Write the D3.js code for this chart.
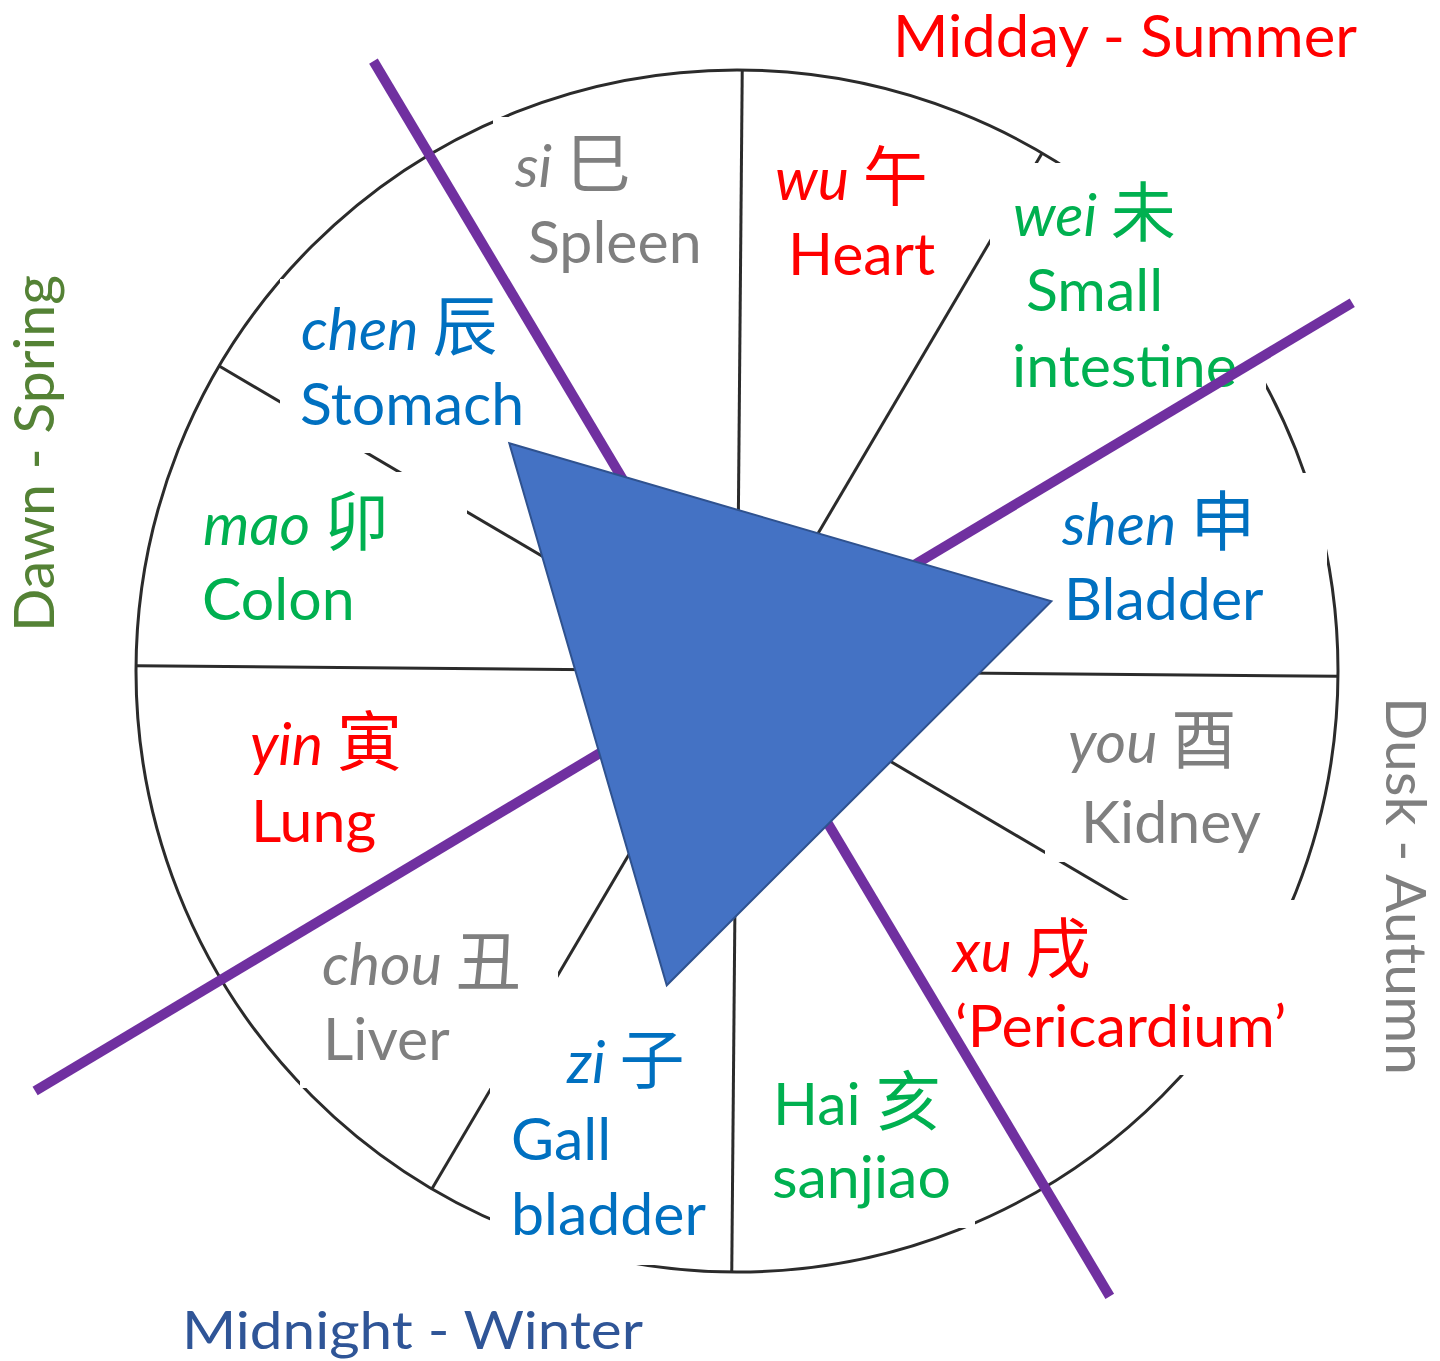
<!DOCTYPE html>
<html>
<head>
<meta charset="utf-8">
<script src="https://cdn.jsdelivr.net/npm/d3@7"></script>
<style>
  body { margin: 0; background: #fff; }
  svg { display: block; }
</style>
</head>
<body>
<svg id="wheel" width="1440" height="1361"></svg>
<script>
// Earthly branches, counter-clockwise from 3 o'clock, one per 30° segment
const branches = ["shen", "wei", "wu", "si", "chen", "mao", "yin", "chou", "zi", "Hai", "xu", "you"];
const characters = ["申", "未", "午", "巳", "辰", "卯", "寅", "丑", "子", "亥", "戌", "酉"];
const organs = [
  ["Bladder"], ["Small", "intestine"], ["Heart"], ["Spleen"],
  ["Stomach"], ["Colon"], ["Lung"], ["Liver"],
  ["Gall", "bladder"], ["sanjiao"], ["\u2018Pericardium\u2019"], ["Kidney"]
];
const branchColors = ["#0070C0", "#00B050", "#FF0000", "#7F7F7F"]; // repeats every 4 segments

const seasons = ["Midday - Summer", "Dawn - Spring", "Midnight - Winter", "Dusk - Autumn"];
const seasonColors = ["#FF0000", "#548235", "#2F5597", "#7F7F7F"];

// purple dividers (degrees) and triangle corners (degrees, radius)
const dividerAngles = [120.8, 30.9];
const triangleAngles = [135, 12.5, 257.4];
const triangleRadius = 322;

// ---- layout ----
const width = 1440;
const height = 1361;
const cx = 737;
const cy = 671;
const radius = 601;

const svg = d3.select("#wheel");

const angle = d3.scaleLinear().domain([0, 12]).range([-0.5, 359.5]);
const rad = d => d * Math.PI / 180;
function polar(deg, r) {
  return [cx + r * Math.cos(rad(deg)), cy - r * Math.sin(rad(deg))];
}

// spokes that sit under a purple divider follow it
const spokeAngles = d3.range(12).map(i => {
  const a = angle(i);
  const hit = dividerAngles.flatMap(d => [d, d + 180]).find(d => Math.abs(d - a) < 3);
  return hit === undefined ? a : hit;
});

// label anchors: pinyin baseline, then organ lines, and the white patch behind
const labelLayout = [
  { p: [1062, 545], o: [[1064, 620]], box: [1045, 473, 1327, 668] },
  { p: [1013, 236], o: [[1026, 311], [1012, 387]], box: [990, 163, 1266, 398] },
  { p: [775, 200], o: [[788, 275]], box: [748, 138, 958, 292] },
  { p: [515, 187], o: [[528, 263]], box: [493, 117, 736, 300] },
  { p: [301, 350], o: [[300, 425]], box: [280, 279, 535, 453] },
  { p: [203, 545], o: [[202, 620]], box: [185, 472, 467, 645] },
  { p: [250, 765], o: [[251, 842]], box: [228, 710, 460, 862] },
  { p: [322, 985], o: [[323, 1060]], box: [300, 912, 558, 1088] },
  { p: [567, 1083], o: [[511, 1160], [511, 1235]], box: [490, 1028, 728, 1265] },
  { p: [773, 1125], o: [[772, 1198]], box: [758, 1058, 975, 1228] },
  { p: [953, 972], o: [[955, 1047]], box: [938, 900, 1300, 1075] },
  { p: [1068, 763], o: [[1081, 843]], box: [1045, 698, 1300, 862] }
];

const latin = "Lato, 'Open Sans', sans-serif";
const cjk = "'Noto Sans CJK SC', sans-serif";

// ---- wheel: circle and 12 spokes ----
const wheel = svg.append("g").attr("class", "wheel");

wheel.append("circle")
  .attr("cx", cx)
  .attr("cy", cy)
  .attr("r", radius)
  .attr("fill", "none")
  .attr("stroke", "#2b2b2b")
  .attr("stroke-width", 3);

wheel.selectAll("line.spoke")
  .data(spokeAngles)
  .join("line")
  .attr("class", "spoke")
  .attr("x1", cx)
  .attr("y1", cy)
  .attr("x2", a => polar(a, radius)[0])
  .attr("y2", a => polar(a, radius)[1])
  .attr("stroke", "#2b2b2b")
  .attr("stroke-width", 3);

// ---- branch labels on white patches ----
const labels = svg.append("g")
  .selectAll("g.branch")
  .data(branches.map((b, i) => ({
    branch: b,
    char: characters[i],
    organ: organs[i],
    color: branchColors[i % 4],
    italic: b !== "Hai",
    layout: labelLayout[i]
  })))
  .join("g")
  .attr("class", "branch");

labels.append("rect")
  .attr("x", d => d.layout.box[0])
  .attr("y", d => d.layout.box[1])
  .attr("width", d => d.layout.box[2] - d.layout.box[0])
  .attr("height", d => d.layout.box[3] - d.layout.box[1])
  .attr("fill", "#fff");

const head = labels.append("text")
  .attr("x", d => d.layout.p[0])
  .attr("y", d => d.layout.p[1])
  .attr("fill", d => d.color);

head.append("tspan")
  .attr("font-family", latin)
  .attr("font-size", 59)
  .attr("font-style", d => d.italic ? "italic" : "normal")
  .text(d => d.branch + " ");

head.append("tspan")
  .attr("font-family", cjk)
  .attr("font-size", 65)
  .text(d => d.char);

labels.each(function (d) {
  d3.select(this).selectAll("text.organ")
    .data(d.organ.map((t, k) => ({ t, pos: d.layout.o[k] })))
    .join("text")
    .attr("class", "organ")
    .attr("x", o => o.pos[0])
    .attr("y", o => o.pos[1])
    .attr("font-family", latin)
    .attr("font-size", 59)
    .attr("fill", d.color)
    .text(o => o.t);
});

// ---- purple dividers ----
const dividerReach = [[710, 728], [717, 818]];
svg.append("g")
  .selectAll("line")
  .data(dividerAngles)
  .join("line")
  .attr("x1", (a, i) => polar(a, dividerReach[i][0])[0])
  .attr("y1", (a, i) => polar(a, dividerReach[i][0])[1])
  .attr("x2", (a, i) => polar(a + 180, dividerReach[i][1])[0])
  .attr("y2", (a, i) => polar(a + 180, dividerReach[i][1])[1])
  .attr("stroke", "#7030A0")
  .attr("stroke-width", 10);

// ---- blue triangle ----
svg.append("polygon")
  .datum(triangleAngles)
  .attr("points", d => d.map(a => polar(a, triangleRadius).join(",")).join(" "))
  .attr("fill", "#4472C4")
  .attr("stroke", "#2F528F")
  .attr("stroke-width", 2);

// ---- season titles ----
const seasonLayout = [
  { x: 893, y: 57, rot: 0, size: 58, len: 464 },
  { x: 54, y: 632, rot: -90, size: 57, len: 357 },
  { x: 182, y: 1349, rot: 0, size: 52, len: 461 },
  { x: 1386, y: 697, rot: 90, size: 57, len: 378 }
];

svg.append("g")
  .selectAll("text")
  .data(seasons)
  .join("text")
  .attr("transform", (s, i) => `translate(${seasonLayout[i].x},${seasonLayout[i].y}) rotate(${seasonLayout[i].rot})`)
  .attr("font-family", latin)
  .attr("font-size", (s, i) => seasonLayout[i].size)
  .attr("textLength", (s, i) => seasonLayout[i].len)
  .attr("lengthAdjust", "spacingAndGlyphs")
  .attr("fill", (s, i) => seasonColors[i])
  .text(s => s);
</script>
</body>
</html>
